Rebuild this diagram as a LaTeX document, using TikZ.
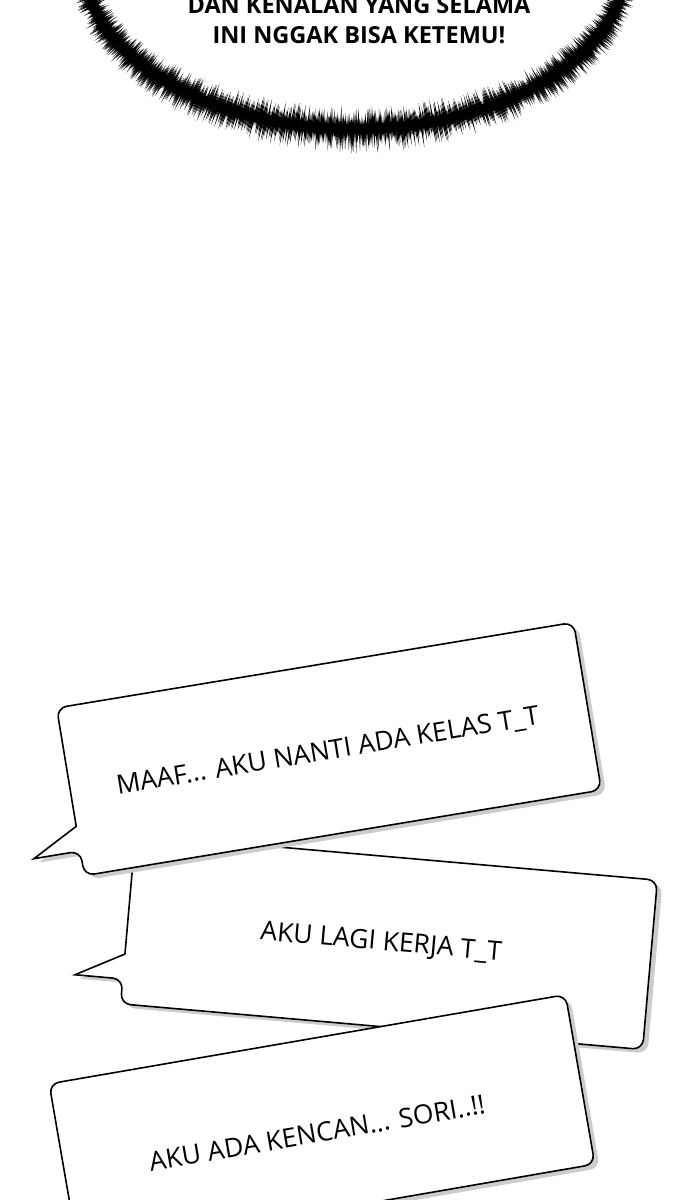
\documentclass[tikz,border=0pt]{standalone}
\usepackage{fontspec}
\setmainfont{Open Sans}
\usetikzlibrary{shadows}

\tikzset{
    bubble/.style={draw=black, line width=1.6pt, fill=white,
        drop shadow={shadow xshift=5pt, shadow yshift=-4pt, fill=black!20, opacity=1}},
    bubbletext/.style={font=\fontsize{26.5}{30}\selectfont, inner sep=0pt},
    shouttext/.style={font=\bfseries\fontsize{23.5}{28}\selectfont, inner sep=0pt},
}

\begin{document}
\begin{tikzpicture}[x=1pt, y=-1pt]
\useasboundingbox (0,0) rectangle (700,1200);
% spiky ring round the shout
\pgfmathsetseed{7}
\draw[line width=10pt] (355,-40) ellipse [x radius=272, y radius=169];
\foreach \t in {0,0.25,...,180}
{
    \pgfmathsetmacro\px{355+272*cos(\t)}
    \pgfmathsetmacro\py{-40+169*sin(\t)}
    \pgfmathsetmacro\nn{sqrt((0.621*cos(\t))^2+(sin(\t))^2)}
    \pgfmathsetmacro\nx{0.621*cos(\t)/\nn}
    \pgfmathsetmacro\ny{sin(\t)/\nn}
    \pgfmathsetmacro\ri{(7+14*rnd)*(0.6+0.5*sin(\t))}
    \pgfmathsetmacro\ro{(7+15*rnd)*(0.6+0.5*sin(\t))}
    \fill (\px-\ri*\nx,\py-\ri*\ny) -- (\px-1.1*\ny,\py+1.1*\nx)
        -- (\px+\ro*\nx,\py+\ro*\ny) -- (\px+1.1*\ny,\py-1.1*\nx) -- cycle;
}
\node[shouttext, anchor=base] (selama) at (359,13) {DAN KENALAN YANG SELAMA};
\node[shouttext, anchor=base] (ketemu) at (359,43) {INI NGGAK BISA KETEMU!};

\coordinate (b1) at (329,749);
\coordinate (b2) at (389,942);
\coordinate (b3) at (322,1124);
% middle bubble, behind the others
\begin{scope}[shift={(b2)}, rotate=-5]
    \draw[bubble] (-262,60) [sharp corners] -- (-310,60) -- (-262,35)
        [rounded corners=10pt] -- (-262,-85) -- (262,-85) -- (262,85) -- (-262,85) -- cycle;
\end{scope}
\node[bubbletext, rotate=-5] (kerja) at (381,943) {AKU LAGI KERJA T\_T};
% upper bubble
\begin{scope}[shift={(b1)}, rotate=9.4]
    \draw[bubble] (-262,60) [sharp corners] -- (-309,60) -- (-262,35)
        [rounded corners=10pt] -- (-262,-85) -- (262,-85) -- (262,85) -- (-262,85) -- cycle;
\end{scope}
\node[bubbletext, rotate=9.4] (kelas) at (328,752) {MAAF... AKU NANTI ADA KELAS T\_T};
% lower bubble
\begin{scope}[shift={(b3)}, rotate=9.8]
    \draw[bubble, rounded corners=10pt] (-262,-86) rectangle (262,86);
\end{scope}
\node[bubbletext, rotate=9.8] (kencan) at (317,1133) {AKU ADA KENCAN... SORI..!!};
\end{tikzpicture}
\end{document}
